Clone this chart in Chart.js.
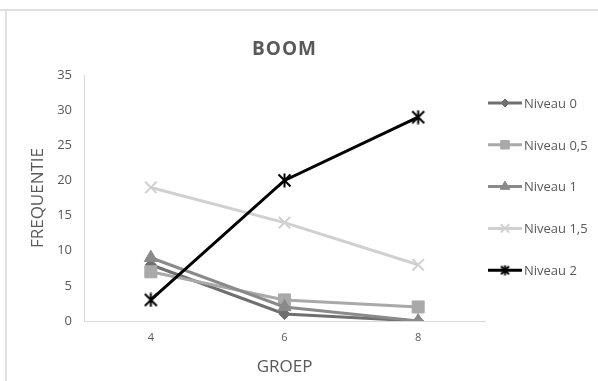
<!DOCTYPE html>
<html>
<head>
<meta charset="utf-8">
<script src="https://cdn.jsdelivr.net/npm/chart.js@4"></script>
<style>
  html, body { margin: 0; padding: 0; background: #fff; }
  #wrap { width: 598px; height: 381px; position: relative; }
</style>
</head>
<body>
<div id="wrap"><canvas id="c" width="598" height="381"></canvas></div>
<script>
// Groups on the x axis
const groups = ['4', '6', '8'];

// Frequencies per level
const niveau0  = [8, 1, 0];
const niveau05 = [7, 3, 2];
const niveau1  = [9, 2, 0];
const niveau15 = [19, 14, 8];
const niveau2  = [3, 20, 29];

const seriesNames = ['Niveau 0', 'Niveau 0,5', 'Niveau 1', 'Niveau 1,5', 'Niveau 2'];
const yTicks = [0, 5, 10, 15, 20, 25, 30, 35];

const FONT = "'Open Sans', 'Liberation Sans', sans-serif";
const TEXT = '#595959';

// Asterisk marker: an X crossed by a vertical stroke
function asteriskMarker(color, s) {
  const c = document.createElement('canvas');
  c.width = s; c.height = s;
  const g = c.getContext('2d');
  const m = s / 2, r = s / 2 - 1.5;
  g.strokeStyle = color; g.lineWidth = 2;
  g.beginPath();
  g.moveTo(m - r, m - r); g.lineTo(m + r, m + r);
  g.moveTo(m + r, m - r); g.lineTo(m - r, m + r);
  g.moveTo(m, 0.5); g.lineTo(m, s - 0.5);
  g.stroke();
  return c;
}

// Later series are painted on top of earlier ones
function ds(idx, data, color, style, radius, bw, legendRadius) {
  return {
    label: seriesNames[idx], data,
    order: seriesNames.length - idx,
    borderColor: color, backgroundColor: color,
    pointBackgroundColor: color, pointBorderColor: color,
    pointStyle: style, pointRadius: radius, pointHoverRadius: radius,
    pointBorderWidth: bw, legendRadius,
    borderWidth: 3, tension: 0, fill: false
  };
}

const datasets = [
  ds(0, niveau0,  '#6f6f6f', 'rectRot', 5.5, 1, 4),
  ds(1, niveau05, '#a9a9a9', 'rect', 8.5, 1, 6),
  ds(2, niveau1,  '#8a8a8a', 'triangle', 7.5, 1, 5.5),
  ds(3, niveau15, '#d0d0d0', 'crossRot', 8, 2, 6),
  ds(4, niveau2,  '#000000', asteriskMarker('#000000', 15), 7, 2, 5)
];

// Outer frame lines along the top and left edge
const framePlugin = {
  id: 'frame',
  beforeDraw(chart) {
    const ctx = chart.ctx;
    ctx.save();
    ctx.strokeStyle = '#e0e0e0';
    ctx.lineWidth = 2;
    ctx.beginPath();
    ctx.moveTo(0, 10); ctx.lineTo(598, 10);
    ctx.moveTo(6, 10); ctx.lineTo(6, 381);
    ctx.stroke();
    ctx.restore();
  }
};

// Title centred over the plot area
const plotTitle = {
  id: 'plotTitle',
  afterDraw(chart) {
    const ctx = chart.ctx, a = chart.chartArea;
    ctx.save();
    ctx.fillStyle = TEXT;
    ctx.font = "bold 19px " + FONT;
    if ('letterSpacing' in ctx) ctx.letterSpacing = '1px';
    ctx.textAlign = 'center';
    ctx.textBaseline = 'middle';
    ctx.fillText('BOOM', (a.left + a.right) / 2, 50);
    ctx.restore();
  }
};

// Legend on the right: a short line with the series marker, then the name
const sideLegend = {
  id: 'sideLegend',
  afterDraw(chart) {
    const ctx = chart.ctx;
    const x0 = chart.chartArea.right + 3;
    const top = 103, step = 41.8;
    chart.data.datasets.forEach((d, i) => {
      const y = top + i * step;
      ctx.save();
      ctx.strokeStyle = d.borderColor;
      ctx.lineWidth = 3;
      ctx.beginPath();
      ctx.moveTo(x0, y); ctx.lineTo(x0 + 34, y);
      ctx.stroke();
      ctx.fillStyle = d.borderColor;
      ctx.lineWidth = d.pointBorderWidth;
      const style = typeof d.pointStyle === 'string' ? d.pointStyle : asteriskMarker(d.borderColor, 11);
      Chart.helpers.drawPoint(ctx, {
        pointStyle: style,
        radius: d.legendRadius,
        rotation: 0,
        borderWidth: d.pointBorderWidth
      }, x0 + 17, y);
      ctx.restore();
      ctx.save();
      ctx.fillStyle = TEXT;
      ctx.font = "13px " + FONT;
      ctx.textBaseline = 'middle';
      ctx.textAlign = 'left';
      ctx.fillText(d.label, x0 + 36, y + 1);
      ctx.restore();
    });
  }
};

new Chart(document.getElementById('c'), {
  type: 'line',
  data: { labels: groups, datasets },
  plugins: [framePlugin, plotTitle, sideLegend],
  options: {
    responsive: false,
    animation: false,
    layout: { padding: { left: 24, right: 113, top: 75, bottom: 0 } },
    plugins: {
      legend: { display: false },
      tooltip: { enabled: false },
      title: { display: false }
    },
    scales: {
      x: {
        offset: true,
        grid: { display: false, drawTicks: false },
        border: { display: true, color: '#d9d9d9', width: 1 },
        ticks: { color: TEXT, font: { family: FONT, size: 11 }, padding: 10 },
        title: { display: true, text: 'GROEP', color: TEXT, font: { family: FONT, size: 17 }, padding: { top: 2 } },
        afterFit(scale) { scale.height = 60; }
      },
      y: {
        min: 0, max: 35,
        afterBuildTicks(scale) { scale.ticks = yTicks.map(v => ({ value: v })); },
        grid: { display: false, drawTicks: false },
        border: { display: true, color: '#d9d9d9', width: 1 },
        ticks: { color: TEXT, font: { family: FONT, size: 13 }, padding: 12 },
        title: { display: true, text: 'FREQUENTIE', color: TEXT, font: { family: FONT, size: 17 }, padding: { bottom: 0 } },
        afterFit(scale) { scale.width = 60; }
      }
    }
  }
});
</script>
</body>
</html>
